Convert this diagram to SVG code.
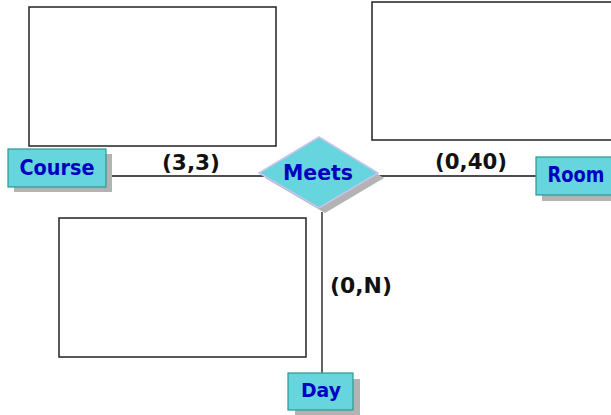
<svg xmlns="http://www.w3.org/2000/svg" width="611" height="415" viewBox="0 0 611 415">
<style>
.frame{fill:#fff;stroke:#222;stroke-width:1.5}
.shadow{fill:#b3b3b3}
.ent{fill:#66d5de;stroke:#2a9a8e;stroke-width:1.2}
.rel{fill:#66d5de;stroke:#c8c4ee;stroke-width:1.5}
.conn{stroke:#111;stroke-width:1.3;fill:none}
.nt{font-family:"DejaVu Sans","Liberation Sans",sans-serif;font-weight:bold;font-size:21px;fill:#0000c0;text-anchor:middle}
.lbl{font-family:"DejaVu Sans","Liberation Sans",sans-serif;font-weight:bold;font-size:21px;fill:#111;text-anchor:middle}
</style>
<rect width="611" height="415" fill="#fff"/>
<g id="frames">
<rect class="frame" x="29" y="7" width="247" height="139"/>
<rect class="frame" x="372" y="2" width="245" height="138"/>
<rect class="frame" x="59" y="218" width="247" height="139"/>
</g>
<g id="connectors">
<line class="conn" x1="106" y1="176" x2="264" y2="176"/>
<line class="conn" x1="374" y1="176" x2="536" y2="176"/>
<line class="conn" x1="322" y1="212" x2="322" y2="373"/>
</g>
<g id="labels">
<text class="lbl" x="191" y="170" textLength="58" lengthAdjust="spacingAndGlyphs">(3,3)</text>
<text class="lbl" x="471" y="169" textLength="72" lengthAdjust="spacingAndGlyphs">(0,40)</text>
<text class="lbl" x="361" y="293" textLength="62" lengthAdjust="spacingAndGlyphs">(0,N)</text>
</g>
<g id="course">
<rect class="shadow" x="14" y="154" width="98" height="38"/>
<rect class="ent" x="8" y="149" width="98" height="38"/>
<text class="nt" x="57" y="175" textLength="75" lengthAdjust="spacingAndGlyphs">Course</text>
</g>
<g id="meets">
<polygon class="shadow" points="265,178 325,142 384,178 325,213"/>
<polygon class="rel" points="259,173 319,137 378,173 319,208"/>
<text class="nt" x="318" y="180" textLength="70" lengthAdjust="spacingAndGlyphs">Meets</text>
</g>
<g id="room">
<rect class="shadow" x="542" y="163" width="80" height="38"/>
<rect class="ent" x="536" y="157" width="80" height="38"/>
<text class="nt" x="576" y="182" textLength="57" lengthAdjust="spacingAndGlyphs">Room</text>
</g>
<g id="day">
<rect class="shadow" x="295" y="379" width="65" height="37"/>
<rect class="ent" x="288" y="373" width="65" height="37"/>
<text class="nt" x="321" y="397" style="font-size:19px" textLength="40" lengthAdjust="spacingAndGlyphs">Day</text>
</g>
</svg>
